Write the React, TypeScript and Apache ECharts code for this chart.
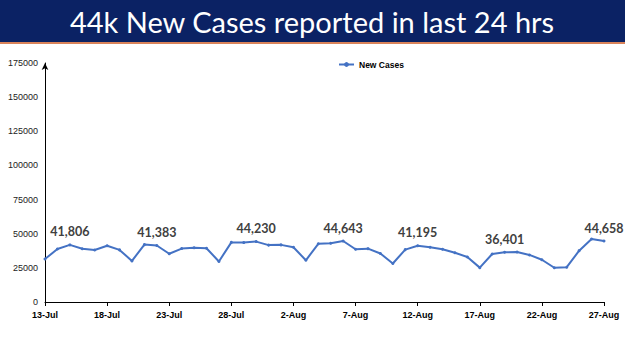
import React, { useEffect, useRef } from "react";
import * as echarts from "echarts";

const dates = [
  "13-Jul","14-Jul","15-Jul","16-Jul","17-Jul","18-Jul","19-Jul","20-Jul","21-Jul","22-Jul",
  "23-Jul","24-Jul","25-Jul","26-Jul","27-Jul","28-Jul","29-Jul","30-Jul","31-Jul","1-Aug",
  "2-Aug","3-Aug","4-Aug","5-Aug","6-Aug","7-Aug","8-Aug","9-Aug","10-Aug","11-Aug",
  "12-Aug","13-Aug","14-Aug","15-Aug","16-Aug","17-Aug","18-Aug","19-Aug","20-Aug","21-Aug",
  "22-Aug","23-Aug","24-Aug","25-Aug","26-Aug","27-Aug",
];

const newCases = [
  31443, 38792, 41806, 38949, 38079, 41157, 38164, 30093, 42015, 41383,
  35342, 39097, 39742, 39361, 29689, 43654, 43509, 44230, 41649, 41831,
  40134, 30549, 42625, 42982, 44643, 38628, 39070, 35499, 28204, 38353,
  41195, 40120, 38667, 36083, 32937, 25166, 35178, 36401, 36571, 34457,
  30948, 25072, 25467, 37593, 46164, 44658,
];

const labelledIdx = [2, 9, 17, 24, 30, 37, 45];

const yTicks = { min: 0, max: 175000, interval: 25000 };

const titleText = "44k New Cases reported in last 24 hrs";

export default function App() {
  const ref = useRef<HTMLDivElement>(null);
  useEffect(() => {
    if (!ref.current) return;
    const chart = echarts.init(ref.current, null, { renderer: "svg" });
    const data = newCases.map((v, i) =>
      labelledIdx.includes(i)
        ? {
            value: v,
            label: {
              show: true,
              position: "top",
              distance: 5,
              formatter: (p: any) => Number(p.value).toLocaleString("en-US"),
              fontFamily: "Lato",
              fontWeight: "bold",
              fontSize: 12.5,
              color: "#404040",
            },
          }
        : v
    );
    chart.setOption({
      animation: false,
      backgroundColor: "#ffffff",
      graphic: [
        {
          type: "rect",
          shape: { x: 0, y: 0, width: 625, height: 42 },
          style: { fill: "#0b2264" },
          z: 10,
        },
        {
          type: "rect",
          shape: { x: 0, y: 42, width: 625, height: 2 },
          style: { fill: "#d9835a" },
          z: 10,
        },
        {
          type: "text",
          x: 312,
          y: 21,
          style: {
            text: titleText,
            fill: "#ffffff",
            font: "29px Lato",
            align: "center",
            verticalAlign: "middle",
          },
          z: 11,
        },
      ],
      legend: {
        left: 333,
        top: 55,
        itemWidth: 15,
        itemHeight: 6,
        itemGap: 4,
        textStyle: {
          fontSize: 8.5,
          fontWeight: "bold",
          color: "#000",
          fontFamily: "Liberation Sans",
        },
        data: ["New Cases"],
      },
      grid: { left: 45, right: 21, top: 63, bottom: 49, containLabel: false },
      xAxis: {
        type: "category",
        data: dates,
        boundaryGap: false,
        axisLine: { show: true, lineStyle: { color: "#000", width: 1 } },
        axisTick: { show: true, interval: 4, length: 4, lineStyle: { color: "#000" } },
        axisLabel: {
          interval: 4,
          fontSize: 9,
          fontWeight: "bold",
          color: "#000",
          fontFamily: "Liberation Sans",
          margin: 8,
        },
        splitLine: { show: false },
      },
      yAxis: {
        type: "value",
        min: yTicks.min,
        max: yTicks.max,
        interval: yTicks.interval,
        axisLine: {
          show: true,
          symbol: ["none", "arrow"],
          symbolSize: [5, 7],
          lineStyle: { color: "#000", width: 1 },
        },
        axisTick: { show: false },
        splitLine: { show: false },
        axisLabel: {
          fontSize: 9,
          color: "#222",
          fontFamily: "Liberation Sans",
          margin: 7,
          formatter: (v: number) => String(v),
        },
      },
      series: [
        {
          name: "New Cases",
          type: "line",
          data,
          symbol: "circle",
          symbolSize: 3,
          lineStyle: { color: "#4472c4", width: 2 },
          itemStyle: { color: "#4472c4" },
        },
      ],
    });
    return () => chart.dispose();
  }, []);
  return (
    <div
      ref={ref}
      style={{ position: "fixed", left: 0, top: 0, width: 625, height: 351 }}
    />
  );
}
